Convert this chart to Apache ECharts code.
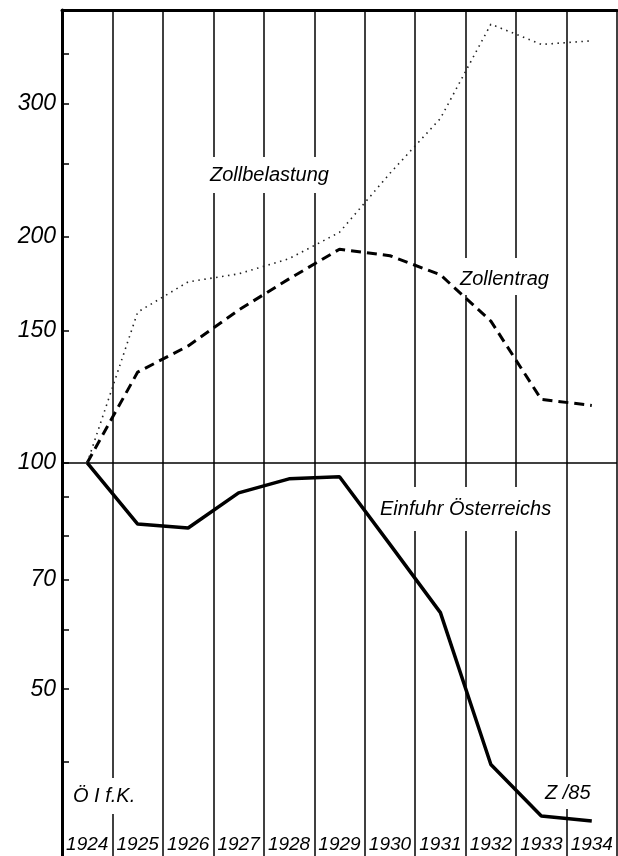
<!DOCTYPE html>
<html>
<head>
<meta charset="utf-8">
<script src="https://cdn.jsdelivr.net/npm/echarts@6/dist/echarts.min.js"></script>
<style>
  html, body { margin: 0; padding: 0; background: #fff; }
  #chart { width: 618px; height: 856px; }
</style>
</head>
<body>
<div id="chart"></div>
<script>
// Indexzahlen, 1924 = 100, logarithmischer Maßstab
const years = ['1924', '1925', '1926', '1927', '1928', '1929', '1930', '1931', '1932', '1933', '1934'];
const zollbelastung = [100, 158.6, 174, 178.3, 186.8, 202.5, 242.6, 287, 383, 360, 364];
const zollertrag = [100, 132, 143, 159.6, 175.6, 192.3, 188.5, 177.8, 154.3, 121.4, 119.2];
const einfuhr = [100, 82.9, 81.9, 91.2, 95.2, 95.8, 77.9, 63.2, 39.7, 33.9, 33.4];

const yTicks = [40, 50, 60, 70, 80, 90, 100, 150, 200, 250, 300, 350];
const yLabels = [50, 70, 100, 150, 200, 300];

const font = '"Liberation Sans", Arial, sans-serif';

const chart = echarts.init(document.getElementById('chart'));

chart.setOption({
  animation: false,
  backgroundColor: '#fff',
  grid: { left: 62, right: 1, top: 10, bottom: 0 },
  xAxis: [
    {
      type: 'category',
      data: years,
      boundaryGap: true,
      position: 'bottom',
      axisLine: { show: false },
      axisTick: { show: false },
      axisLabel: {
        inside: true, interval: 0, margin: 2,
        fontFamily: font, fontStyle: 'italic', fontSize: 19, color: '#000'
      },
      splitLine: { show: true, lineStyle: { color: '#000', width: 1.5 } }
    },
    {
      type: 'category',
      data: years,
      boundaryGap: true,
      position: 'top',
      axisLine: { show: true, lineStyle: { color: '#000', width: 3 } },
      axisTick: { show: false },
      axisLabel: { show: false },
      splitLine: { show: false }
    }
  ],
  yAxis: {
    type: 'log',
    logBase: 10,
    min: 30,
    max: 400,
    axisLine: { show: true, lineStyle: { color: '#000', width: 3 } },
    axisTick: {
      show: true, inside: true, length: 7,
      customValues: yTicks,
      lineStyle: { color: '#000', width: 1.5 }
    },
    axisLabel: {
      customValues: yLabels, margin: 6,
      fontFamily: font, fontStyle: 'italic', fontSize: 23, color: '#000'
    },
    splitLine: { show: false }
  },
  series: [
    {
      name: 'Einfuhr Österreichs',
      type: 'line',
      data: einfuhr,
      symbol: 'none',
      z: 3,
      lineStyle: { color: '#000', width: 3.5 },
      markLine: {
        silent: true,
        symbol: 'none',
        label: { show: false },
        lineStyle: { color: '#000', width: 1.5, type: 'solid' },
        data: [{ yAxis: 100 }]
      }
    },
    {
      name: 'Zollertrag',
      type: 'line',
      data: zollertrag,
      symbol: 'none',
      z: 3,
      lineStyle: { color: '#000', width: 3, type: [10, 6] }
    },
    {
      name: 'Zollbelastung',
      type: 'line',
      data: zollbelastung,
      symbol: 'none',
      z: 3,
      lineStyle: { color: '#222', width: 1.6, type: [1.5, 4.5] }
    }
  ],
  graphic: [
    {
      type: 'text', left: 205, top: 157, z: 1,
      style: { text: 'Zollbelastung', font: 'italic 20px ' + font, fill: '#000', backgroundColor: '#fff', padding: [8, 5] }
    },
    {
      type: 'text', left: 456, top: 258, z: 1,
      style: { text: 'Zollentrag', font: 'italic 20px ' + font, fill: '#000', backgroundColor: '#fff', padding: [11, 4, 6, 4] }
    },
    {
      type: 'text', left: 376, top: 487, z: 1,
      style: { text: 'Einfuhr Österreichs', font: 'italic 20px ' + font, fill: '#000', backgroundColor: '#fff', padding: [12, 4] }
    },
    {
      type: 'text', left: 70, top: 778, z: 1,
      style: { text: 'Ö I f.K.', font: 'italic 20px ' + font, fill: '#000', backgroundColor: '#fff', padding: [8, 3] }
    },
    {
      type: 'text', left: 542, top: 777, z: 1,
      style: { text: 'Z /85', font: 'italic 20px ' + font, fill: '#000', backgroundColor: '#fff', padding: [6, 3] }
    }
  ]
});
</script>
</body>
</html>
